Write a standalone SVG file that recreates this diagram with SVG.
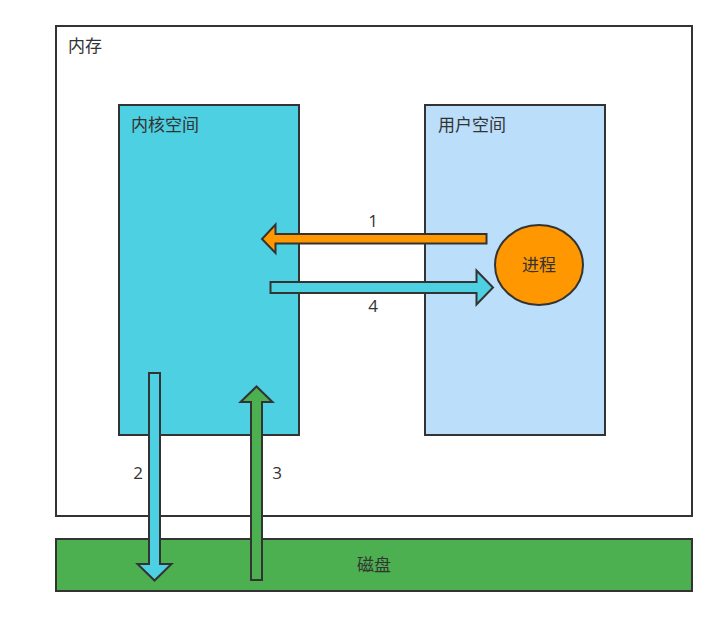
<svg xmlns="http://www.w3.org/2000/svg" width="717" height="617" viewBox="0 0 717 617">
<style>
.box{stroke:#333;stroke-width:2}
.arr{stroke:#333;stroke-width:2;stroke-linejoin:miter}
text{font-family:"Open Sans","Noto Sans CJK SC",sans-serif;font-size:17px;fill:#333}
</style>
<rect width="717" height="617" fill="#fff"/>
<g id="memory">
<rect class="box" x="56" y="26" width="636" height="490" fill="#fff"/>
<text x="68" y="52">内存</text>
</g>
<g id="kernel">
<rect class="box" x="119" y="105" width="180" height="330" fill="#4DD0E1"/>
<text x="131" y="131">内核空间</text>
</g>
<g id="user">
<rect class="box" x="425" y="105" width="180" height="330" fill="#BBDEFB"/>
<text x="438" y="131">用户空间</text>
</g>
<g id="disk">
<rect class="box" x="56" y="539" width="636" height="52" fill="#4CAF50"/>
<text x="374" y="571" text-anchor="middle">磁盘</text>
</g>
<g id="process">
<ellipse class="box" cx="539" cy="265" rx="44" ry="40" fill="#FF9800"/>
<text x="539" y="271" text-anchor="middle">进程</text>
</g>
<g id="connectors">
<polygon class="arr" fill="#FF9800" points="486.5,234 486.5,243.5 275.5,243.5 275.5,253 262,239 275.5,224.5 275.5,234"/>
<polygon class="arr" fill="#4DD0E1" points="270.5,282 476.5,282 476.5,270.5 493,287.5 476.5,304.5 476.5,293 270.5,293"/>
<polygon class="arr" fill="#4DD0E1" points="149,373 160,373 160,564 171.5,564 154.5,580.5 137.5,564 149,564"/>
<polygon class="arr" fill="#4CAF50" points="251,580 262,580 262,402 272.5,402 256.5,386.5 240.5,402 251,402"/>
<text x="373" y="227" text-anchor="middle">1</text>
<text x="138" y="479" text-anchor="middle">2</text>
<text x="277" y="479" text-anchor="middle">3</text>
<text x="373" y="311.5" text-anchor="middle">4</text>
</g>
</svg>
